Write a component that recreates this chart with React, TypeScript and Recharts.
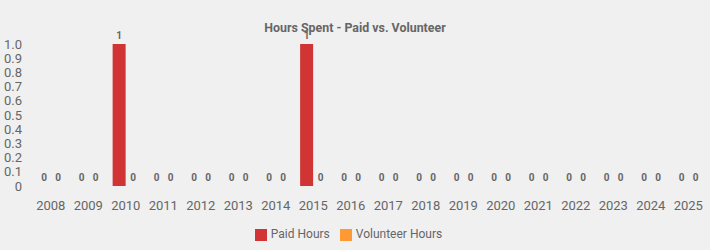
import React from 'react'
import { BarChart, Bar, XAxis, YAxis, Legend, LabelList } from 'recharts'

const years = ['2008', '2009', '2010', '2011', '2012', '2013', '2014', '2015', '2016', '2017', '2018', '2019', '2020', '2021', '2022', '2023', '2024', '2025']
const paidHours = [0, 0, 1, 0, 0, 0, 0, 1, 0, 0, 0, 0, 0, 0, 0, 0, 0, 0]
const volunteerHours = [0, 0, 0, 0, 0, 0, 0, 0, 0, 0, 0, 0, 0, 0, 0, 0, 0, 0]
const yTicks = [0, 0.1, 0.2, 0.3, 0.4, 0.5, 0.6, 0.7, 0.8, 0.9, 1.0]

const data = years.map((y, i) => ({ year: y, paid: paidHours[i], volunteer: volunteerHours[i] }))

const FONT = 'Roboto, "Liberation Sans", sans-serif'

// keep zero bars as (invisible) rects so their "0" labels still get drawn
const tinyMin = (v: number) => (v === 0 ? 0.01 : 0)

export default function App() {
  return (
    <div style={{ position: 'absolute', left: 0, top: 0, width: 710, height: 250, background: '#f0f0f0', fontFamily: FONT }}>
      <div
        style={{
          position: 'absolute', left: 0, top: 20, width: 710, textAlign: 'center',
          fontSize: 12.4, fontWeight: 'bold', color: '#666',
        }}
      >
        Hours Spent - Paid vs. Volunteer
      </div>
      <BarChart
        width={710}
        height={250}
        data={data}
        margin={{ top: 44, right: 3, left: 0, bottom: 0 }}
        barCategoryGap="15%"
        barGap={1}
        style={{ fontFamily: FONT }}
      >
        <XAxis
          dataKey="year"
          axisLine={false}
          tickLine={false}
          height={34}
          tickMargin={9}
          interval={0}
          tick={{ fill: '#666', fontSize: 13 }}
        />
        <YAxis
          domain={[0, 1]}
          ticks={yTicks}
          axisLine={false}
          tickLine={false}
          width={32}
          tickMargin={4}
          interval={0}
          tick={{ fill: '#666', fontSize: 13 }}
          tickFormatter={(v: number) => (v === 0 ? '0' : v.toFixed(1))}
        />
        <Legend
          verticalAlign="bottom"
          iconType="square"
          iconSize={12}
          wrapperStyle={{ fontSize: 12, height: 30, lineHeight: '16px', paddingTop: 6, boxSizing: 'border-box' }}
          formatter={(value: string) => <span style={{ color: '#666' }}>{value}</span>}
        />
        <Bar dataKey="paid" name="Paid Hours" fill="#d13434" minPointSize={tinyMin} isAnimationActive={false}>
          <LabelList dataKey="paid" position="top" fill="#666" fontSize={10} fontWeight="bold" />
        </Bar>
        <Bar dataKey="volunteer" name="Volunteer Hours" fill="#ff9933" minPointSize={tinyMin} isAnimationActive={false}>
          <LabelList dataKey="volunteer" position="top" fill="#666" fontSize={10} fontWeight="bold" />
        </Bar>
      </BarChart>
    </div>
  )
}
